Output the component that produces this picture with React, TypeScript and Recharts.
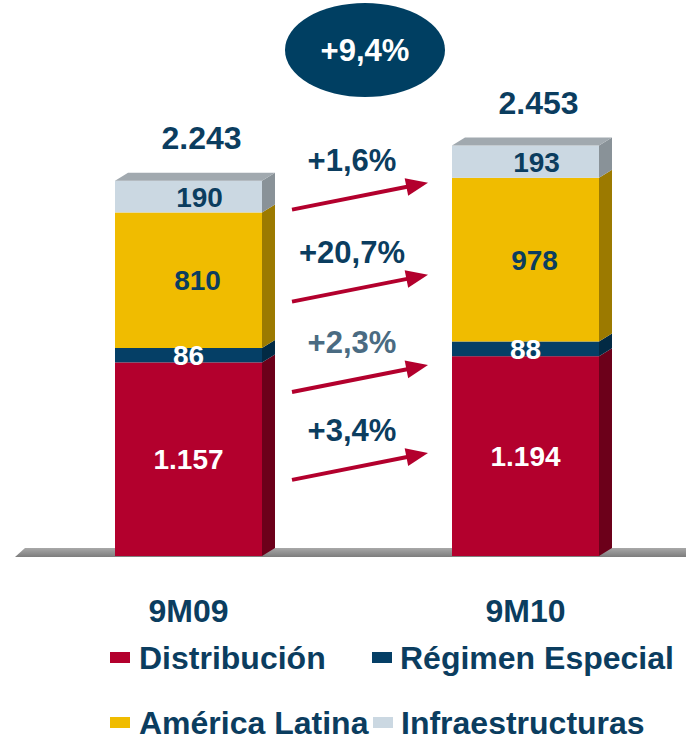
import { BarChart, Bar, XAxis, YAxis, ReferenceLine, LabelList } from 'recharts';

const CATEGORIES = ['9M09', '9M10'];
const DISTRIBUCION = [1157, 1194];
const REGIMEN_ESPECIAL = [86, 88];
const AMERICA_LATINA = [810, 978];
const INFRAESTRUCTURAS = [190, 193];
// growth per series, same order as SERIES below
const GROWTH = ['+3,4%', '+2,3%', '+20,7%', '+1,6%'];
const TOTAL_GROWTH = '+9,4%';

const NAVY = '#0b3d5f';
const FONT = '"Liberation Sans", Arial, Helvetica, sans-serif';

const SERIES = [
  { key: 'dist', name: 'Distribución', values: DISTRIBUCION, color: '#b3002d', side: '#6c001a', text: '#ffffff', dx: 0, growthColor: NAVY },
  { key: 'reg', name: 'Régimen Especial', values: REGIMEN_ESPECIAL, color: '#053f66', side: '#022a44', text: '#ffffff', dx: 0, growthColor: '#4a6b82' },
  { key: 'amer', name: 'América Latina', values: AMERICA_LATINA, color: '#f0bc00', side: '#9c7a00', text: NAVY, dx: 9, growthColor: NAVY },
  { key: 'infra', name: 'Infraestructuras', values: INFRAESTRUCTURAS, color: '#cbd8e2', side: '#899298', text: NAVY, dx: 11, growthColor: NAVY },
];

const data = CATEGORIES.map((c, i) => {
  const row: Record<string, string | number> = { name: c };
  SERIES.forEach((s) => {
    row[s.key] = s.values[i];
  });
  return row;
});

const fmt = (n: number) => String(n).replace(/\B(?=(\d{3})+(?!\d))/g, '.');

// layout
const W = 700;
const H = 741;
const MARGIN = { top: 54, right: 6, left: 20, bottom: 125 };
const BAND = (W - MARGIN.left - MARGIN.right) / CATEGORIES.length;
const DX = 13;
const DY = 8;
// arrow start levels in axis units (dist, reg, amer, infra)
const ARROW_LEVELS = [455, 980, 1520, 2070];
const ARROW_RISE = 161;
const BUBBLE_LEVEL = 3024;

function Arrow({ x1, y1, x2, y2 }: { x1: number; y1: number; x2: number; y2: number }) {
  const a = Math.atan2(y2 - y1, x2 - x1);
  const len = 22;
  const hw = 9;
  const bx = x2 - len * Math.cos(a);
  const by = y2 - len * Math.sin(a);
  const px = -Math.sin(a) * hw;
  const py = Math.cos(a) * hw;
  return (
    <g>
      <line x1={x1} y1={y1} x2={bx + 2 * Math.cos(a)} y2={by + 2 * Math.sin(a)} stroke="#b3002d" strokeWidth={4} />
      <polygon points={`${x2},${y2} ${bx + px},${by + py} ${bx - px},${by - py}`} fill="#b3002d" />
    </g>
  );
}

function Bar3D(props: any) {
  const { x, y, width, height, index, payload, si } = props;
  const s = SERIES[si];
  const isTop = si === SERIES.length - 1;
  const ppu = height / Number(payload[s.key]);
  let below = 0;
  for (let j = 0; j < si; j++) below += Number(payload[SERIES[j].key]);
  const zeroY = y + height + below * ppu;
  const toY = (v: number) => zeroY - v * ppu;
  const right = x + width;

  let total = 0;
  SERIES.forEach((t) => (total += Number(payload[t.key])));

  return (
    <g>
      <polygon
        points={`${right},${y} ${right + DX},${y - DY} ${right + DX},${y + height - DY} ${right},${y + height}`}
        fill={s.side}
      />
      <rect x={x} y={y} width={width} height={height} fill={s.color} />
      {isTop && (
        <polygon points={`${x},${y} ${x + DX},${y - DY} ${right + DX},${y - DY} ${right},${y}`} fill="#a1a9af" />
      )}
      {isTop && (
        <text
          x={x + width / 2 + 13}
          y={y - 32}
          textAnchor="middle"
          fontSize={32}
          fontWeight={700}
          fill={NAVY}
          fontFamily={FONT}
        >
          {fmt(total)}
        </text>
      )}
      {index === 0 && (
        <g>
          <Arrow
            x1={right + 30}
            y1={toY(ARROW_LEVELS[si])}
            x2={x + BAND - 24}
            y2={toY(ARROW_LEVELS[si] + ARROW_RISE)}
          />
          <text
            x={right + 90}
            y={toY(ARROW_LEVELS[si]) - 39}
            textAnchor="middle"
            fontSize={31}
            fontWeight={700}
            fill={s.growthColor}
            fontFamily={FONT}
          >
            {GROWTH[si]}
          </text>
        </g>
      )}
      {index === 0 && isTop && (
        <g>
          <ellipse cx={right + 103} cy={toY(BUBBLE_LEVEL)} rx={80} ry={47} fill="#003f62" />
          <text
            x={right + 103}
            y={toY(BUBBLE_LEVEL) + 11}
            textAnchor="middle"
            fontSize={31}
            fontWeight={700}
            fill="#ffffff"
            fontFamily={FONT}
          >
            {TOTAL_GROWTH}
          </text>
        </g>
      )}
    </g>
  );
}

function Floor(props: any) {
  const { x1, x2, y1 } = props;
  const y = Number(y1);
  return (
    <g>
      <defs>
        <linearGradient id="floorGrad" x1="0" y1="0" x2="0" y2="1">
          <stop offset="0%" stopColor="#a8a8a8" />
          <stop offset="100%" stopColor="#7d7d7d" />
        </linearGradient>
      </defs>
      <polygon
        points={`${x1 - 5},${y + 1} ${x1 + 5},${y - DY} ${x2 + 20},${y - DY} ${x2 + 20},${y + 1}`}
        fill="url(#floorGrad)"
      />
    </g>
  );
}

function AxisTick(props: any) {
  const { x, y, payload } = props;
  return (
    <text x={x} y={y + 58} textAnchor="middle" fontSize={32} fontWeight={700} fill={NAVY} fontFamily={FONT}>
      {payload.value}
    </text>
  );
}

const LEGEND_POS = [
  { sq: 110, tx: 139, cy: 657 },
  { sq: 372, tx: 400, cy: 657 },
  { sq: 110, tx: 139, cy: 722 },
  { sq: 373, tx: 401, cy: 722 },
];
const LEGEND_ORDER = [0, 1, 2, 3];

export default function App() {
  return (
    <div
      style={{
        position: 'absolute',
        left: 0,
        top: 0,
        width: 686,
        height: 741,
        overflow: 'hidden',
        background: '#ffffff',
        fontFamily: FONT,
      }}
    >
      <BarChart width={W} height={H} data={data} margin={MARGIN} barSize={147}>
        <XAxis dataKey="name" axisLine={false} tickLine={false} height={60} tick={<AxisTick />} interval={0} />
        <YAxis hide domain={[0, 3000]} />
        <ReferenceLine y={0} zIndex={-10} shape={(p: any) => <Floor {...p} />} />
        {SERIES.map((s, i) => (
          <Bar
            key={s.key}
            dataKey={s.key}
            name={s.name}
            stackId="a"
            fill={s.color}
            isAnimationActive={false}
            shape={(p: any) => <Bar3D {...p} si={i} />}
          >
            <LabelList
              dataKey={s.key}
              content={(p: any) => (
                <text
                  x={Number(p.x) + Number(p.width) / 2 + s.dx}
                  y={Number(p.y) + Number(p.height) / 2 + 10}
                  textAnchor="middle"
                  fontSize={28}
                  fontWeight={700}
                  fill={s.text}
                  fontFamily={FONT}
                >
                  {fmt(Number(p.value))}
                </text>
              )}
            />
          </Bar>
        ))}
      </BarChart>
      {LEGEND_ORDER.map((si, k) => {
        const s = SERIES[si];
        const pos = LEGEND_POS[k];
        return (
          <div key={s.key}>
            <div
              style={{
                position: 'absolute',
                left: pos.sq,
                top: pos.cy - 5,
                width: 20,
                height: 11,
                background: s.color,
              }}
            />
            <div
              style={{
                position: 'absolute',
                left: pos.tx,
                top: pos.cy - 13,
                fontSize: 32,
                lineHeight: '28px',
                fontWeight: 700,
                color: NAVY,
                whiteSpace: 'nowrap',
              }}
            >
              {s.name}
            </div>
          </div>
        );
      })}
    </div>
  );
}
